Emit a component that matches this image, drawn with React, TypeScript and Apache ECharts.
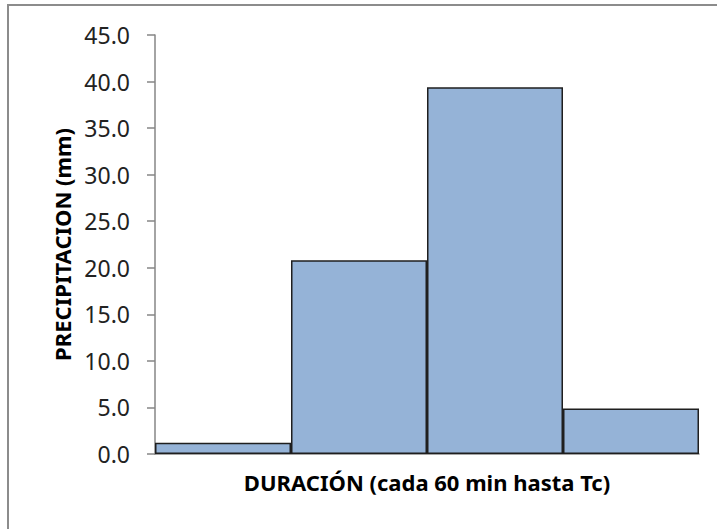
import React, { useEffect, useRef } from "react";
import * as echarts from "echarts";

const categories = ["1", "2", "3", "4"];
const precipitation = [1.2, 20.8, 39.4, 4.9];
const yMin = 0;
const yMax = 45;
const yInterval = 5;
const xTitle = "DURACIÓN (cada 60 min hasta Tc)";
const yTitle = "PRECIPITACION (mm)";

export default function App() {
  const ref = useRef<HTMLDivElement>(null);
  useEffect(() => {
    if (!ref.current) return;
    const chart = echarts.init(ref.current, null, { renderer: "svg" });
    chart.setOption({
      animation: false,
      backgroundColor: "#ffffff",
      textStyle: { fontFamily: "Noto Sans" },
      graphic: [
        {
          type: "rect",
          shape: { x: 8, y: 5, width: 730, height: 540 },
          style: { fill: "none", stroke: "#8c8c8c", lineWidth: 2 },
          silent: true,
          z: -1,
        },
      ],
      grid: { left: 155, right: 18, top: 35, bottom: 75, containLabel: false },
      xAxis: {
        type: "category",
        data: categories,
        name: xTitle,
        nameLocation: "middle",
        nameGap: 17,
        nameTextStyle: { fontFamily: "Noto Sans", fontWeight: "bold", fontSize: 22, color: "#000" },
        axisLine: { show: true, lineStyle: { color: "#868686", width: 1.5 } },
        axisTick: { show: false },
        axisLabel: { show: false },
        splitLine: { show: false },
      },
      yAxis: {
        type: "value",
        min: yMin,
        max: yMax,
        interval: yInterval,
        name: yTitle,
        nameLocation: "middle",
        nameRotate: 90,
        nameGap: 76,
        nameTextStyle: { fontFamily: "Noto Sans", fontWeight: "bold", fontSize: 22, color: "#000" },
        axisLine: { show: true, lineStyle: { color: "#868686", width: 1.5 } },
        axisTick: { show: true, inside: false, length: 8, lineStyle: { color: "#868686", width: 1.5 } },
        axisLabel: {
          margin: 25,
          fontFamily: "Noto Sans",
          fontSize: 23,
          color: "#222",
          formatter: (v: number) => v.toFixed(1),
        },
        splitLine: { show: false },
      },
      series: [
        {
          type: "bar",
          data: precipitation,
          barCategoryGap: "0%",
          itemStyle: { color: "#95B3D7", borderColor: "#1f1f1f", borderWidth: 1.5 },
        },
      ],
    });
    return () => chart.dispose();
  }, []);
  return (
    <div
      ref={ref}
      style={{ position: "absolute", left: 0, top: 0, width: 717, height: 529 }}
    />
  );
}
